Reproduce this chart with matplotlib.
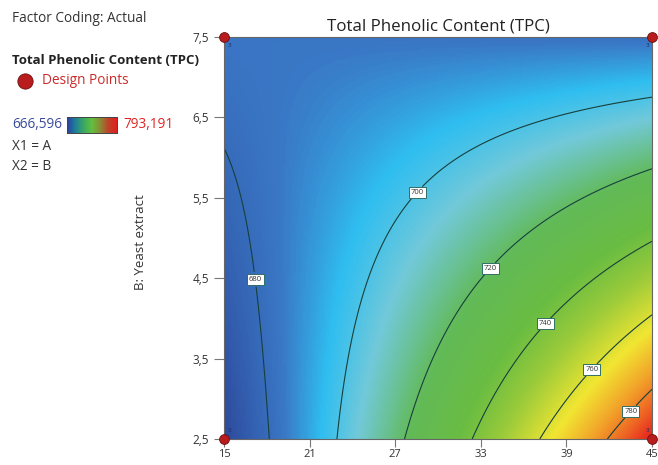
import numpy as np
import matplotlib
matplotlib.use("Agg")
import matplotlib.pyplot as plt
from matplotlib.colors import LinearSegmentedColormap
from matplotlib.lines import Line2D

plt.rcParams['font.family'] = ['Open Sans', 'DejaVu Sans']

# Response at a 3x3 grid (rows: B, columns: A)
factor_a = [15, 30, 45]
factor_b = [2.5, 5.0, 7.5]
tpc_grid = [[666.6, 729.9, 793.2],
            [676.3, 707.7, 739.1],
            [684.0, 683.5, 683.0]]
tpc_min, tpc_max = 666.596, 793.191
contour_levels = [680, 700, 720, 740, 760, 780]
x_ticks = [15, 21, 27, 33, 39, 45]
y_ticks = [2.5, 3.5, 4.5, 5.5, 6.5, 7.5]
design_a = [15, 45, 15, 45]
design_b = [2.5, 2.5, 7.5, 7.5]
design_reps = ['3', '3', '3', '3']


def coded(v, lo, hi):
    return (np.asarray(v, float) - (lo + hi) / 2) / ((hi - lo) / 2)


def terms(a, b):
    return np.stack([np.ones_like(a), a, b, a * b, a ** 2, b ** 2], axis=-1)


# fit a quadratic model to the grid values
ga, gb = np.meshgrid(coded(factor_a, 15, 45), coded(factor_b, 2.5, 7.5))
coef, *_ = np.linalg.lstsq(terms(ga.ravel(), gb.ravel()), np.ravel(tpc_grid), rcond=None)

A = np.linspace(15, 45, 300)
B = np.linspace(2.5, 7.5, 300)
AA, BB = np.meshgrid(A, B)
Z = terms(coded(AA, 15, 45), coded(BB, 2.5, 7.5)) @ coef

cmap = LinearSegmentedColormap.from_list('dx', [
    (0.00, '#2e4a9c'), (0.14, '#3a78c6'), (0.225, '#2fbef0'),
    (0.31, '#72c9d9'), (0.43, '#62ba58'), (0.55, '#6abd42'),
    (0.65, '#9ccb3a'), (0.77, '#f1e632'), (0.86, '#f2a52a'),
    (0.93, '#ee6824'), (1.00, '#e6211e')])
legend_cmap = LinearSegmentedColormap.from_list('leg', [
    '#2a3f9e', '#1f7f9a', '#3aa860', '#62c040', '#8a8a34', '#c04028', '#e02020'])

fig = plt.figure(figsize=(6.58, 4.65), dpi=100)
ax = fig.add_axes([224 / 658, 1 - 439 / 465, 428 / 658, 402 / 465])

ax.imshow(Z, extent=[15, 45, 2.5, 7.5], origin='lower', aspect='auto',
          cmap=cmap, vmin=tpc_min, vmax=tpc_max, interpolation='bilinear')
cs = ax.contour(AA, BB, Z, levels=contour_levels, colors='#17403c', linewidths=0.8)
label_pos = [(17.8, 4.5), (28.6, 5.56), (33.8, 4.6), (37.6, 3.92), (40.8, 3.36), (43.5, 2.85)]
labels = ax.clabel(cs, fmt='%d', fontsize=5.5, inline=True, inline_spacing=1, manual=label_pos)
for t in labels:
    t.set_rotation(0)
    t.set_color('#333333')
    t.set_bbox(dict(boxstyle='square,pad=0.25', fc='white', ec='#2f6f66', lw=0.7))

ax.scatter(design_a, design_b, s=50, c='#b81c1c', edgecolors='#6a1010', linewidths=0.6,
           clip_on=False, zorder=5)
for xa, yb, r in zip(design_a, design_b, design_reps):
    dx = 0.35 if xa == 15 else -0.35
    dy = 0.1 if yb == 2.5 else -0.1
    ax.text(xa + dx, yb + dy, r, fontsize=4.5, color='#1b2a6a', ha='center', va='center')

ax.set_xlim(15, 45)
ax.set_ylim(2.5, 7.5)
ax.set_xticks(x_ticks)
ax.set_xticklabels([str(v) for v in x_ticks])
ax.set_yticks(y_ticks)
ax.set_yticklabels([f'{v:.1f}'.replace('.', ',') for v in y_ticks])
ax.tick_params(direction='out', length=7, width=0.8, color='#777777', labelsize=8.5,
               labelcolor='#333333', pad=4)
ax.tick_params(axis='x', length=6, pad=1, labelsize=8)
for sp in ax.spines.values():
    sp.set_color('#666666')
    sp.set_linewidth(0.8)

ax.set_title('Total Phenolic Content (TPC)', fontsize=12.2, color='#222222', pad=5)
fig.text(140 / 658, 1 - 242 / 465, 'B: Yeast extract', rotation=90, fontsize=9.5,
         color='#333333', ha='center', va='center')

# left legend panel
fig.text(12 / 658, 1 - 18 / 465, 'Factor Coding: Actual', fontsize=9.8, color='#333333', va='center')
fig.text(12 / 658, 1 - 60 / 465, 'Total Phenolic Content (TPC)', fontsize=9.5,
         fontweight='bold', color='#222222', va='center')
fig.add_artist(Line2D([25 / 658], [1 - 81 / 465], marker='o', markersize=11,
                      markerfacecolor='#b81c1c', markeredgecolor='#6a1010',
                      markeredgewidth=0.6, linestyle='none', transform=fig.transFigure))
fig.text(42 / 658, 1 - 81 / 465, 'Design Points', fontsize=9.8, color='#cc2a2a', va='center')
fig.text(12 / 658, 1 - 125 / 465, f'{tpc_min:.3f}'.replace('.', ','), fontsize=9.8,
         color='#3a4a9a', va='center')
fig.text(123 / 658, 1 - 125 / 465, f'{tpc_max:.3f}'.replace('.', ','), fontsize=9.8,
         color='#e02424', va='center')
cax = fig.add_axes([67 / 658, 1 - 133 / 465, 50 / 658, 16 / 465])
cax.imshow(np.linspace(0, 1, 256)[None, :], aspect='auto', cmap=legend_cmap)
cax.set_xticks([])
cax.set_yticks([])
for sp in cax.spines.values():
    sp.set_color('#444444')
    sp.set_linewidth(0.7)
fig.text(12 / 658, 1 - 146 / 465, 'X1 = A', fontsize=9.8, color='#333333', va='center')
fig.text(12 / 658, 1 - 166 / 465, 'X2 = B', fontsize=9.8, color='#333333', va='center')

fig.savefig('out.png', dpi=100)
